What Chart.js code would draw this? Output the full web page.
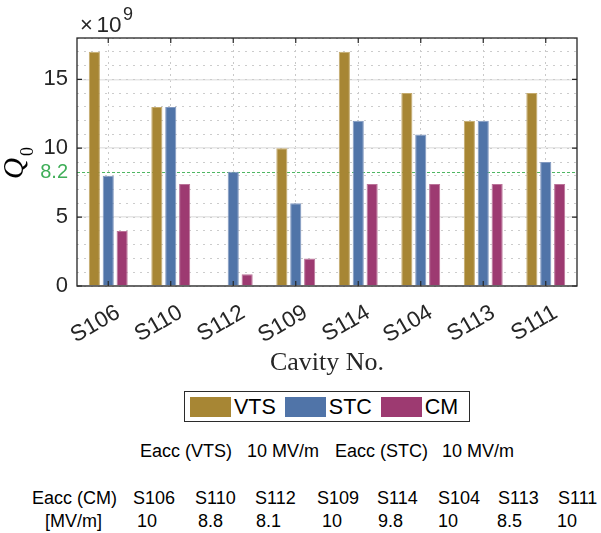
<!DOCTYPE html>
<html>
<head>
<meta charset="utf-8">
<script src="https://cdn.jsdelivr.net/npm/chart.js@4.4.1/dist/chart.umd.min.js"></script>
<style>
  body { margin: 0; background: #fff; font-family: "Liberation Sans", Arial, sans-serif; color: #000; }
  #wrap { position: relative; width: 601px; height: 533px; overflow: hidden; }
  #chart { position: absolute; left: 0; top: 0; }
  #legend {
    position: absolute; left: 184px; top: 391px; width: 286px; height: 31px;
    box-sizing: border-box; border: 1px solid #2b2b2b; background: #fff;
    display: flex; align-items: center; padding-left: 5px;
  }
  #legend .item { display: flex; align-items: center; margin-right: 9px; }
  #legend .swatch { width: 41px; height: 20px; margin-right: 3px; }
  #legend .label { font-size: 21.5px; line-height: 24px; }
  .txt { position: absolute; font-size: 18px; line-height: 20px; white-space: pre; }
</style>
</head>
<body>
<div id="wrap">
  <canvas id="chart" width="601" height="390"></canvas>
  <div id="legend"></div>
  <div id="notes"></div>
</div>
<script>
// Data
const CAVITIES = ["S106", "S110", "S112", "S109", "S114", "S104", "S113", "S111"];
const VTS_Q0 = [17, 13, null, 10, 17, 14, 12, 14];
const STC_Q0 = [8.0, 13, 8.3, 6.0, 12, 11, 12, 9.0];
const CM_Q0 = [4.0, 7.4, 0.85, 2.0, 7.4, 7.4, 7.4, 7.4];
const Y_TICKS = [0, 5, 10, 15];
const Q0_SPEC = 8.3;          // where the dashed line sits in the figure
const Q0_SPEC_LABEL = "8.2";  // how it is labelled
const CM_EACC = ["10", "8.8", "8.1", "10", "9.8", "10", "8.5", "10"];

const SERIES = [
  { label: "VTS", data: VTS_Q0, color: "#a78634", edge: "#c4aa6c" },
  { label: "STC", data: STC_Q0, color: "#5074a8", edge: "#8299c0" },
  { label: "CM", data: CM_Q0, color: "#9d3a71", edge: "#bb7399" },
];

// Layout (pixels)
const PLOT_LEFT = 77, PLOT_RIGHT = 577, PLOT_TOP = 38, PLOT_BOTTOM = 286;
const CANVAS_H = 390;
const COL_X = [133, 195, 255, 317, 377, 438, 498, 558];
const VAL_X = [137, 198, 256, 322, 378, 438, 497, 557];

const DARK = "#262626";
const SANS = "'Liberation Sans', Arial, sans-serif";
const SERIF = "'Liberation Serif', 'DejaVu Serif', serif";

const decorations = {
  id: "decorations",
  beforeDatasetsDraw(chart) {
    const { ctx, chartArea: a, scales: { y } } = chart;
    const py = Math.round(y.getPixelForValue(Q0_SPEC)) + 0.5;
    ctx.save();
    ctx.strokeStyle = "#4fb763";
    ctx.lineWidth = 1;
    ctx.setLineDash([3, 2]);
    ctx.beginPath();
    ctx.moveTo(a.left, py);
    ctx.lineTo(a.right, py);
    ctx.stroke();
    ctx.restore();
  },
  afterDatasetsDraw(chart) {
    const { ctx, chartArea: a, scales: { x, y } } = chart;
    ctx.save();
    ctx.strokeStyle = DARK;
    ctx.lineWidth = 1.3;
    ctx.strokeRect(a.left, a.top, a.right - a.left, a.bottom - a.top);
    // inward tick marks
    ctx.lineWidth = 1.2;
    ctx.beginPath();
    Y_TICKS.forEach((v) => {
      const py = y.getPixelForValue(v);
      ctx.moveTo(a.left, py); ctx.lineTo(a.left + 5, py);
      ctx.moveTo(a.right, py); ctx.lineTo(a.right - 5, py);
    });
    CAVITIES.forEach((c, i) => {
      const px = x.getPixelForValue(i);
      ctx.moveTo(px, a.top); ctx.lineTo(px, a.top + 5);
      ctx.moveTo(px, a.bottom); ctx.lineTo(px, a.bottom - 5);
    });
    ctx.stroke();
    ctx.restore();
  },
  afterDraw(chart) {
    const { ctx, chartArea: a, scales: { x, y } } = chart;
    ctx.save();
    ctx.fillStyle = DARK;

    // rotated category labels (right-middle anchored, as in the source figure)
    ctx.font = `22.5px ${SANS}`;
    ctx.textAlign = "right";
    ctx.textBaseline = "middle";
    chart.data.labels.forEach((lab, i) => {
      const px = x.getPixelForValue(i);
      ctx.save();
      ctx.translate(px + 10, a.bottom + 25);
      ctx.rotate(-Math.PI / 6);
      ctx.fillText(lab, 0, 0);
      ctx.restore();
    });

    // exponent
    ctx.textBaseline = "alphabetic";
    ctx.textAlign = "left";
    ctx.font = `22px ${SANS}`;
    ctx.fillText("\u00d7", 80, 32);
    ctx.font = `22.5px ${SANS}`;
    ctx.fillText("10", 96.5, 32);
    ctx.font = `18px ${SANS}`;
    ctx.fillText("9", 123, 20);

    // spec label
    ctx.fillStyle = "#3fae58";
    ctx.font = `20px ${SANS}`;
    ctx.textAlign = "right";
    ctx.textBaseline = "middle";
    ctx.fillText(Q0_SPEC_LABEL, 68, y.getPixelForValue(Q0_SPEC) + 1);

    // y title Q_0
    ctx.fillStyle = "#000";
    ctx.translate(23, 179);
    ctx.rotate(-Math.PI / 2);
    ctx.textAlign = "left";
    ctx.textBaseline = "alphabetic";
    ctx.font = `italic 29px ${SERIF}`;
    ctx.fillText("Q", 0, 0);
    ctx.font = `18px ${SERIF}`;
    ctx.fillText("0", 23, 10);
    ctx.restore();
  },
};

const initChart = () => {
  const ctx = document.getElementById("chart").getContext("2d");
  new Chart(ctx, {
    type: "bar",
    data: {
      labels: CAVITIES,
      datasets: SERIES.map((s) => ({
        label: s.label,
        data: s.data,
        backgroundColor: s.color,
        borderColor: s.edge,
        borderWidth: 1,
        borderSkipped: "start",
        categoryPercentage: 0.667,
        barPercentage: 0.8,
      })),
    },
    options: {
      responsive: false,
      animation: false,
      layout: { padding: { left: 0, right: 601 - PLOT_RIGHT, top: PLOT_TOP, bottom: 0 } },
      plugins: { legend: { display: false }, tooltip: { enabled: false } },
      scales: {
        x: {
          grid: { offset: false, color: "#c9c9c9", lineWidth: 1, drawTicks: false },
          border: { display: false, dash: [2, 4] },
          ticks: { display: false },
          title: {
            display: true,
            text: "Cavity No.",
            color: DARK,
            font: { family: SERIF, size: 26 },
            padding: { top: 0, bottom: 11 },
          },
          afterFit: (s) => { s.height = CANVAS_H - PLOT_BOTTOM; },
        },
        y: {
          min: 0,
          max: 18,
          grid: { color: "#e6e6e6", lineWidth: 1.5, drawTicks: false },
          border: { display: false },
          ticks: { color: DARK, font: { size: 22 }, padding: 9 },
          afterBuildTicks: (s) => { s.ticks = Y_TICKS.map((v) => ({ value: v })); },
          afterFit: (s) => { s.width = PLOT_LEFT; },
        },
        yMinor: {
          position: "left",
          min: 0,
          max: 18,
          grid: { color: "#cccccc", lineWidth: 1, drawTicks: false },
          border: { display: false, dash: [2, 5] },
          ticks: { display: false, stepSize: 1 },
          afterFit: (s) => { s.width = 0; },
        },
      },
    },
    plugins: [decorations],
  });
};

const renderLegend = () => {
  document.getElementById("legend").innerHTML = SERIES.map(
    (s) => `<div class="item"><div class="swatch" style="background:${s.color}"></div><span class="label">${s.label}</span></div>`
  ).join("");
};

const renderNotes = () => {
  const cells = [
    { t: "Eacc (VTS)", x: 140, top: 441 },
    { t: "10 MV/m", x: 247, top: 441 },
    { t: "Eacc (STC)", x: 335, top: 441 },
    { t: "10 MV/m", x: 442, top: 441 },
    { t: "Eacc (CM)", x: 32, top: 488 },
    { t: "[MV/m]", x: 45, top: 511 },
  ];
  CAVITIES.forEach((c, i) => cells.push({ t: c, x: COL_X[i], top: 488 }));
  CM_EACC.forEach((v, i) => cells.push({ t: v, x: VAL_X[i], top: 511 }));
  document.getElementById("notes").innerHTML = cells
    .map((c) => `<div class="txt" style="left:${c.x}px;top:${c.top}px">${c.t}</div>`)
    .join("");
};

Chart.defaults.font.family = SANS;
renderLegend();
renderNotes();
initChart();
</script>
</body>
</html>
